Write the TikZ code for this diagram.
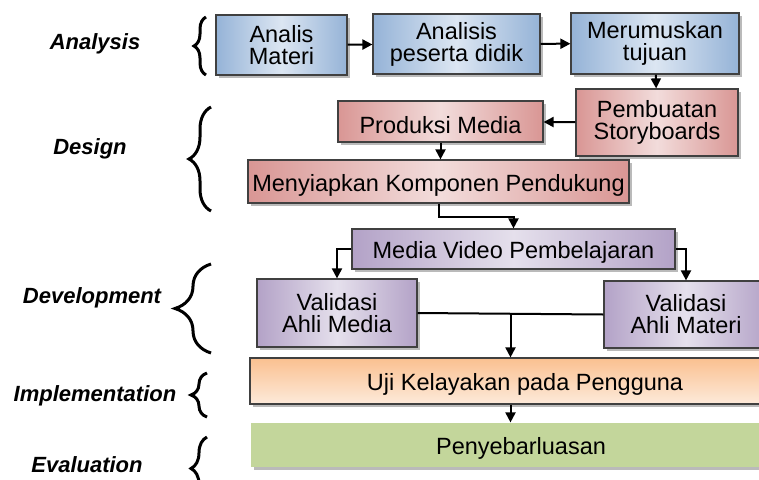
\documentclass[tikz,border=0pt]{standalone}
\usepackage{fontspec}
\setmainfont{Liberation Sans}
\usetikzlibrary{arrows.meta, shadows, decorations.pathreplacing}

\begin{document}
\begin{tikzpicture}[x=1pt, y=-1pt,
    box/.style={draw=black!75, line width=1.2pt, align=center, inner sep=0pt,
        font=\fontsize{23.5}{22}\selectfont,
        execute at begin node={\rule{0pt}{24pt}},
        drop shadow={shadow xshift=2.5pt, shadow yshift=-2.5pt, fill=black!45, opacity=0.6}},
    bluebox/.style={box, left color=blueEdge, right color=blueEdge, middle color=blueLight},
    redbox/.style={box, left color=redEdge, right color=redEdge, middle color=redLight},
    purplebox/.style={box, left color=purpleEdge, right color=purpleEdge, middle color=purpleLight},
    orangebox/.style={box, top color=orangeDark, bottom color=orangeLight},
    greenbox/.style={box, draw=none, fill=greenFill},
    phase/.style={font=\fontsize{22}{22}\selectfont\bfseries\itshape},
    phasebrace/.style={decorate, decoration={brace, amplitude=#1}, line width=3pt},
    arr/.style={-{Triangle[length=10pt, width=10pt]}, line width=2pt}]

    % Define colours
    \definecolor{blueLight}{HTML}{DCE6F2}
    \definecolor{blueEdge}{HTML}{95B3D7}
    \definecolor{redLight}{HTML}{F2DCDB}
    \definecolor{redEdge}{HTML}{D99694}
    \definecolor{purpleLight}{HTML}{E5E0EC}
    \definecolor{purpleEdge}{HTML}{B3A2C7}
    \definecolor{orangeDark}{HTML}{FAC090}
    \definecolor{orangeLight}{HTML}{FDEADA}
    \definecolor{greenFill}{HTML}{C3D69B}

    % Canvas
    \useasboundingbox (0,0) rectangle (759,479);
    \clip (0,0) rectangle (759,479);

    % Phase labels
    \node[phase] (analysis) at (95,44) {Analysis};
    \node[phase] (design) at (90,149) {Design};
    \node[phase] (development) at (92,298) {Development};
    \node[phase] (implementation) at (95,396) {Implementation};
    \node[phase] (evaluation) at (87,465) {Evaluation};

    % Braces
    \draw[phasebrace=12] (206,75) -- (206,17);
    \draw[phasebrace=22] (211,211) -- (211,107);
    \draw[phasebrace=36] (211,353) -- (211,264);
    \draw[phasebrace=16] (207,417) -- (207,373);
    \draw[phasebrace=16] (207,500) -- (207,437);

    % Analysis boxes
    \node[bluebox, minimum width=131pt, minimum height=60pt] (analisMateri) at (281.5,45) {Analis\\Materi};
    \node[bluebox, minimum width=167pt, minimum height=60pt] (analisisPeserta) at (456.5,44) {Analisis\\peserta didik};
    \node[bluebox, minimum width=168pt, minimum height=61pt] (merumuskan) at (655,43.5) {Merumuskan\\tujuan};

    % Design boxes
    \node[redbox, minimum width=162pt, minimum height=67pt] (pembuatan) at (657,122.5) {Pembuatan\\Storyboards};
    \node[redbox, minimum width=205pt, minimum height=41pt] (produksi) at (440.5,121.5) {Produksi Media};
    \node[redbox, minimum width=381pt, minimum height=43pt] (menyiapkan) at (438.5,181.5) {Menyiapkan Komponen Pendukung};

    % Development boxes
    \node[purplebox, minimum width=323pt, minimum height=40pt] (mediaVideo) at (513.5,249) {Media Video Pembelajaran};
    \node[purplebox, minimum width=160pt, minimum height=68pt] (validasiMedia) at (337,313) {Validasi\\Ahli Media};
    \node[purplebox, minimum width=164pt, minimum height=67pt] (validasiMateri) at (686,314.5) {Validasi\\Ahli Materi};

    % Implementation and evaluation boxes
    \node[orangebox, minimum width=550pt, minimum height=46pt] (uji) at (525,381) {Uji Kelayakan pada Pengguna};
    \node[greenbox, minimum width=540pt, minimum height=44pt] (penyebaran) at (521,445) {Penyebarluasan};

    % Connectors
    \draw[arr] (analisMateri) -- (analisisPeserta);
    \draw[arr] (analisisPeserta) -- (merumuskan);
    \draw[arr] (merumuskan) -- (pembuatan);
    \draw[arr] (pembuatan) -- (produksi);
    \draw[arr] (produksi) -- (produksi |- menyiapkan.north);
    \draw[arr] (menyiapkan.south) -- ++(0,13) -| (mediaVideo.north);
    \draw[arr] (mediaVideo.west) -| (validasiMedia.north);
    \draw[arr] (mediaVideo.east) -| (validasiMateri.north);
    \draw[line width=2pt] (validasiMedia.east) -- (validasiMateri.west) coordinate[pos=0.5] (join);
    \draw[arr] (join) -- (join |- uji.north);
    \draw[arr] (uji.south -| join) -- (penyebaran.north -| join);

\end{tikzpicture}
\end{document}
